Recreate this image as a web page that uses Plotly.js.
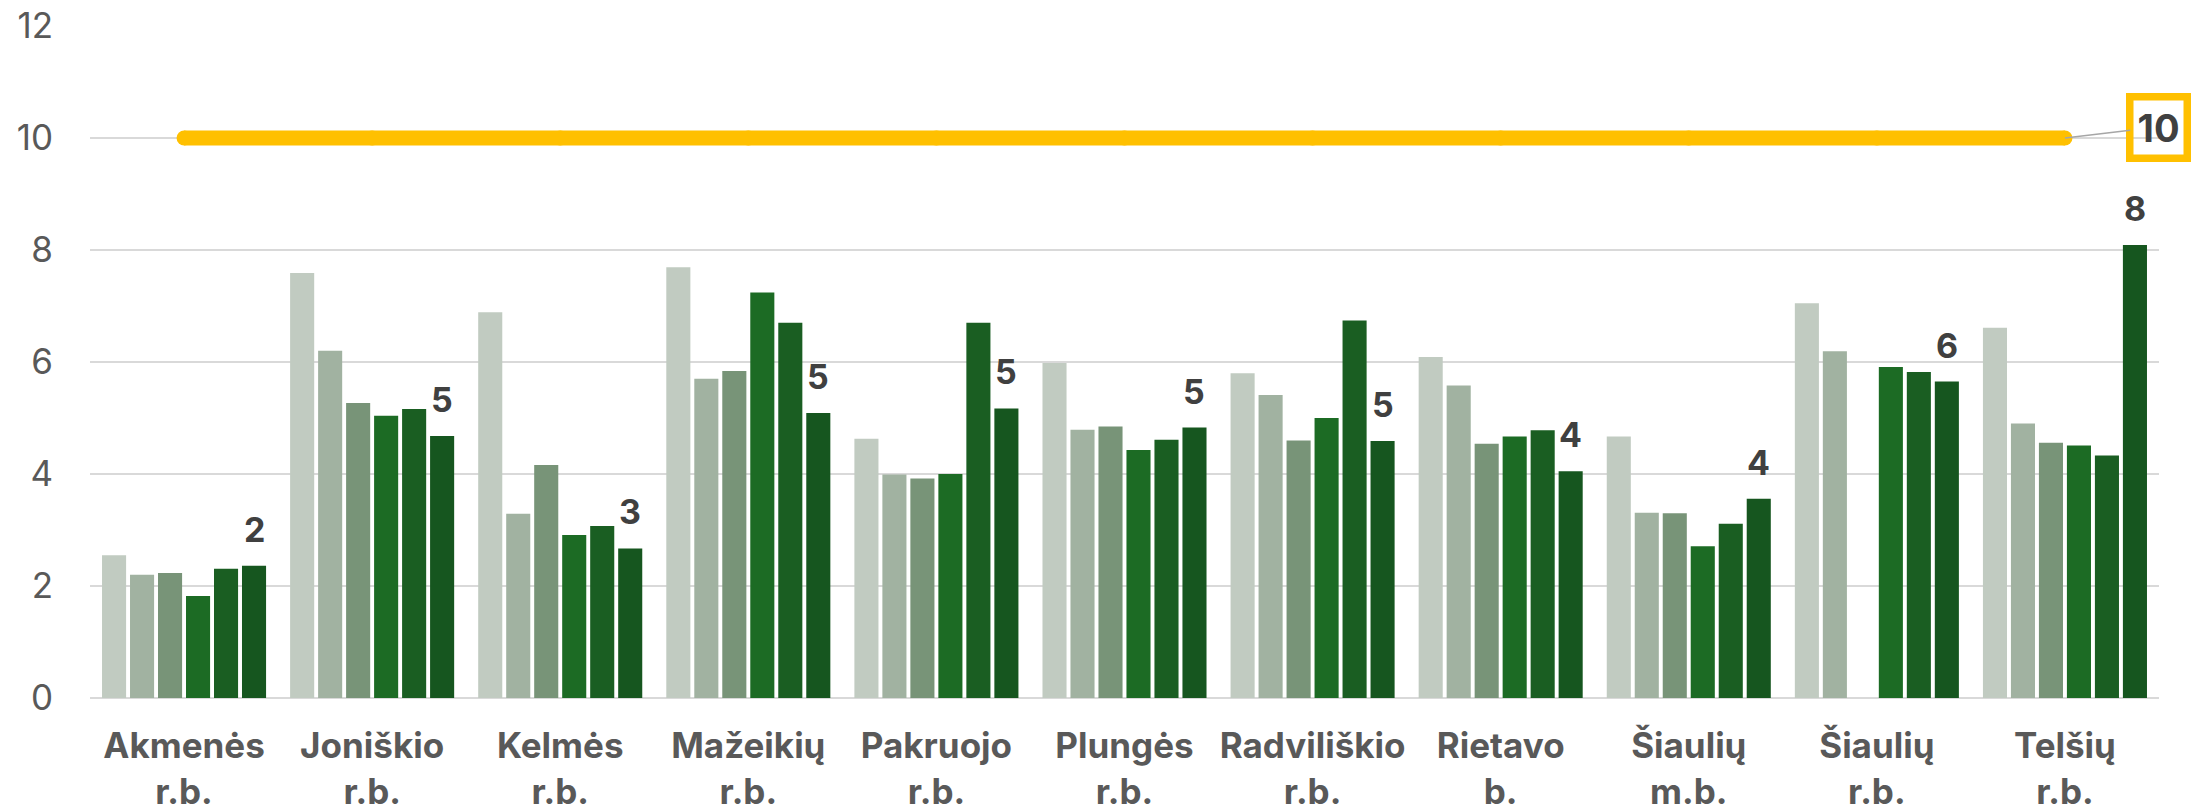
<!DOCTYPE html>
<html>
<head>
<meta charset="utf-8">
<script src="https://cdn.plot.ly/plotly-3.0.1.min.js"></script>
<style>
  html, body { margin: 0; padding: 0; background: #ffffff; }
  #chart { width: 2194px; height: 810px; }
</style>
</head>
<body>
<div id="chart"></div>
<script>
// ---- Data ----
const categories = [
  "Akmenės<br>r.b.", "Joniškio<br>r.b.", "Kelmės<br>r.b.", "Mažeikių<br>r.b.",
  "Pakruojo<br>r.b.", "Plungės<br>r.b.", "Radviliškio<br>r.b.", "Rietavo<br>b.",
  "Šiaulių<br>m.b.", "Šiaulių<br>r.b.", "Telšių<br>r.b."
];
const series1 = [2.55, 7.59, 6.89, 7.69, 4.63, 5.98, 5.80, 6.09, 4.67, 7.05, 6.61];
const series2 = [2.20, 6.20, 3.29, 5.70, 3.99, 4.79, 5.41, 5.58, 3.31, 6.19, 4.90];
const series3 = [2.23, 5.27, 4.16, 5.84, 3.92, 4.85, 4.60, 4.54, 3.30, null, 4.56];
const series4 = [1.82, 5.04, 2.91, 7.24, 4.00, 4.43, 5.00, 4.67, 2.71, 5.91, 4.51];
const series5 = [2.31, 5.16, 3.07, 6.70, 6.70, 4.61, 6.74, 4.78, 3.11, 5.82, 4.33];
const series6 = [2.36, 4.68, 2.67, 5.09, 5.17, 4.83, 4.59, 4.05, 3.56, 5.65, 8.09];
const target  = [10, 10, 10, 10, 10, 10, 10, 10, 10, 10, 10];
const yTicks  = [0, 2, 4, 6, 8, 10, 12];

// ---- Styles ----
const colors = ["#C1CBC1", "#A1B2A1", "#789478", "#1C6B24", "#1A5E22", "#16561F"];
const FONT = "Inter, 'Open Sans', 'Liberation Sans', sans-serif";
const W = 2194, H = 810;
const margin = {l: 90, r: 35, t: 26, b: 112, autoexpand: false};
const bargap = 0.107, bargroupgap = 0.14;

const allSeries = [series1, series2, series3, series4, series5, series6];
const traces = allSeries.map((s, i) => ({
  type: "bar",
  x: categories,
  y: s,
  name: "S" + (i + 1),
  marker: {color: colors[i], line: {width: 0}},
  hoverinfo: "x+y"
}));

traces.push({
  type: "scatter",
  mode: "lines+markers",
  x: categories,
  y: target,
  name: "Tikslas",
  line: {color: "#FFC000", width: 15},
  marker: {color: "#FFC000", size: 15, symbol: "circle", line: {width: 0}},
  cliponaxis: false
});

// data labels over the last series, placed via the axis scale
const plotW = W - margin.l - margin.r;
const catW = plotW / categories.length;
const slot = catW * (1 - bargap) / allSeries.length;
const lastShift = slot * (allSeries.length - 1) / 2;

const annotations = series6.map((v, i) => ({
  x: categories[i], y: v, xref: "x", yref: "y",
  text: "<b>" + Math.round(v) + "</b>",
  showarrow: false, xanchor: "center", yanchor: "bottom",
  xshift: lastShift, yshift: 14,
  font: {family: FONT, size: 34, color: "#404040"}
}));

const li = target.length - 1;
annotations.push({
  x: categories[li], y: target[li], xref: "x", yref: "y",
  text: "<b>" + target[li] + "</b>",
  showarrow: true, arrowhead: 0, arrowwidth: 1.5, arrowcolor: "#A6A6A6",
  ax: 94, ay: -11, standoff: 0,
  bordercolor: "#FFC000", borderwidth: 7.5, borderpad: 4,
  bgcolor: "rgba(0,0,0,0)",
  font: {family: FONT, size: 38, color: "#404040"}
});

const layout = {
  width: W, height: H,
  margin: margin,
  paper_bgcolor: "#ffffff",
  plot_bgcolor: "#ffffff",
  showlegend: false,
  barmode: "group",
  bargap: bargap,
  bargroupgap: bargroupgap,
  font: {family: FONT, color: "#595959"},
  xaxis: {
    type: "category",
    range: [-0.5, categories.length - 0.5],
    autorange: false,
    automargin: false,
    showgrid: false,
    showline: false,
    zeroline: false,
    ticks: "",
    tickfont: {family: FONT, size: 35, color: "#595959", weight: "bold"},
    ticklabelstandoff: 24
  },
  yaxis: {
    range: [0, 12],
    autorange: false,
    automargin: false,
    tickvals: yTicks,
    ticktext: yTicks.map(String),
    showgrid: true,
    gridcolor: "#D9D9D9",
    gridwidth: 2,
    zeroline: true,
    zerolinecolor: "#D9D9D9",
    zerolinewidth: 2,
    showline: false,
    ticks: "",
    tickfont: {family: FONT, size: 35, color: "#595959"},
    ticklabelstandoff: 36
  },
  annotations: annotations
};

Plotly.newPlot("chart", traces, layout, {displayModeBar: false, staticPlot: true});
</script>
</body>
</html>
